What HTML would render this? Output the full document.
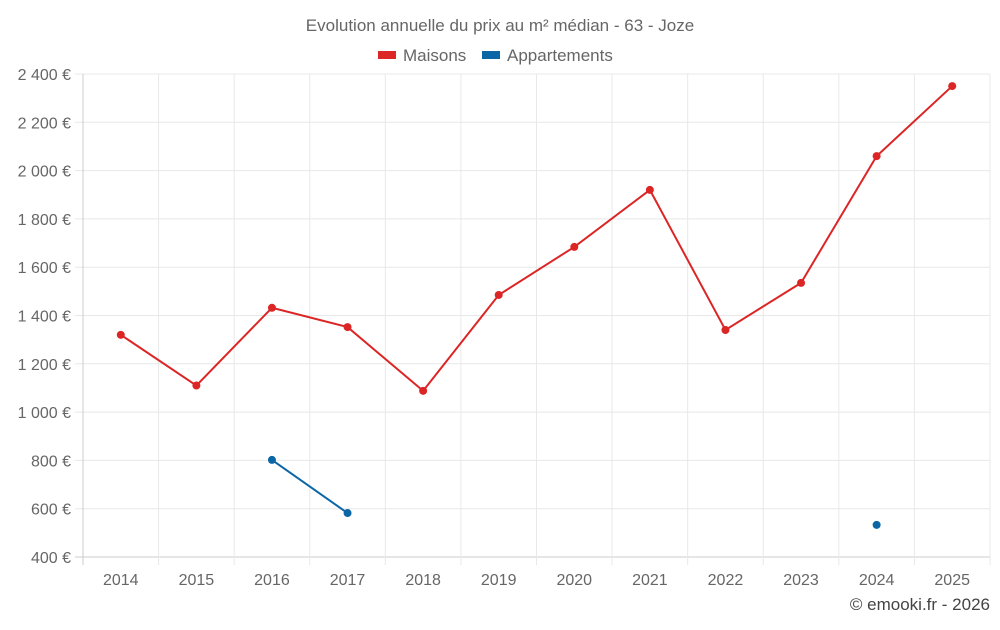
<!DOCTYPE html>
<html><head><meta charset="utf-8"><style>
body{margin:0;background:#fff;font-family:"Liberation Sans",sans-serif}
svg text{font-family:"Liberation Sans",sans-serif;fill:#666}
</style></head><body>
<svg id="chart" width="1000" height="625" viewBox="0 0 1000 625">
<text x="500" y="31" text-anchor="middle" font-size="17">Evolution annuelle du prix au m² médian - 63 - Joze</text>
<g>
<rect x="378" y="51" width="18" height="8" fill="#dc2626"/>
<text x="403" y="61" font-size="17">Maisons</text>
<rect x="482" y="51" width="18" height="8" fill="#0b66a6"/>
<text x="507" y="61" font-size="17">Appartements</text>
</g>
<g id="grid"></g><g id="axes"></g><g id="series"></g>
<text x="990" y="610" text-anchor="end" font-size="17" style="fill:#444">© emooki.fr - 2026</text>
</svg>
<script>
const years=[2014,2015,2016,2017,2018,2019,2020,2021,2022,2023,2024,2025];
const maisons=[1320,1110,1432,1352,1088,1485,1684,1920,1340,1535,2060,2350];
const appartements=[null,null,802,582,null,null,null,null,null,null,533,null];
const yTicks=[400,600,800,1000,1200,1400,1600,1800,2000,2200,2400];
const yLabels=["400 €","600 €","800 €","1 000 €","1 200 €","1 400 €","1 600 €","1 800 €","2 000 €","2 200 €","2 400 €"];
const L=83,R=990,T=74,B=557,yMin=400,yMax=2400;
const bw=(R-L)/years.length;
const x=i=>L+bw*(i+0.5);
const y=v=>B-(v-yMin)/(yMax-yMin)*(B-T);
const NS="http://www.w3.org/2000/svg";
function mk(tag,attrs,parent){const e=document.createElementNS(NS,tag);for(const k in attrs)e.setAttribute(k,attrs[k]);document.getElementById(parent).appendChild(e);return e;}
yTicks.forEach((v,i)=>{
 const g=mk('line',{x1:L-8,x2:R,y1:y(v),y2:y(v),stroke:i===0?'#ccc':'#e8e8e8'},'grid');
 
 
 const t=mk('text',{x:L-12,y:y(v)+6,'text-anchor':'end','font-size':16},'axes');
 t.textContent=yLabels[i];
 
 
});
for(let i=0;i<=years.length;i++){
 const g=mk('line',{x1:L+bw*i,x2:L+bw*i,y1:T,y2:B+8,stroke:i===0?'#ccc':'#e8e8e8'},'grid');
 
 
}
years.forEach((yr,i)=>{
 const t=mk('text',{x:x(i),y:585,'text-anchor':'middle','font-size':16},'axes');
 t.textContent=yr;
 
 
});
function series(vals,color,name){
 let seg=[];const segs=[];
 vals.forEach((v,i)=>{if(v==null){if(seg.length)segs.push(seg);seg=[];}else seg.push([x(i),y(v)]);});
 if(seg.length)segs.push(seg);
 segs.forEach(s=>{if(s.length>1){const p=mk('polyline',{points:s.map(q=>q.join(',')).join(' '),fill:'none',stroke:color,'stroke-width':2},'series');
 
 }});
 vals.forEach((v,i)=>{if(v==null)return;const c=mk('circle',{cx:x(i),cy:y(v),r:4,fill:color},'series');
 
 });
}
series(maisons,'#dc2626','maisons');
series(appartements,'#0b66a6','appartements');
</script>
</body></html>
